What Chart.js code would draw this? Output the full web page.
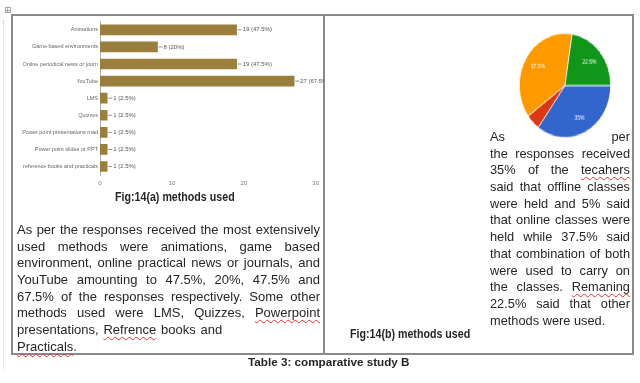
<!DOCTYPE html>
<html><head><meta charset="utf-8">
<script src="https://cdn.jsdelivr.net/npm/chart.js@4.4.1/dist/chart.umd.min.js"></script>
<style>
html,body{margin:0;padding:0;background:#fff;}
body{width:640px;height:383px;position:relative;overflow:hidden;font-family:"Liberation Sans",Arial,sans-serif;color:#262626;}
#page{position:absolute;left:0;top:0;width:640px;height:383px;filter:blur(0.3px);}
.abs{position:absolute;}
#frame{left:11px;top:14px;width:623px;height:341px;border:2px solid #8a8a8a;box-sizing:border-box;}
#divider{left:323px;top:14px;width:2px;height:341px;background:#8a8a8a;}
.para div{height:16.7px;line-height:16.7px;text-align:justify;text-align-last:justify;}
.para div.l{text-align:left;text-align-last:left;}
#leftText{left:17px;top:222px;width:303px;font-size:13px;}
#leftText div.l{word-spacing:1.2px;}
#rightText{left:490px;top:129px;width:140px;font-size:12.8px;}
.sp{text-decoration:underline wavy #e03030;text-decoration-thickness:1px;text-underline-offset:2px;}
.cap{font-weight:bold;font-size:13px;white-space:nowrap;transform:scaleX(0.82);transform-origin:0 0;}
#capA{left:115px;top:189px;}
#capB{left:350px;top:326px;}
#title{left:248px;top:355px;font-weight:bold;font-size:11.7px;white-space:nowrap;}
#handle{left:4px;top:5px;font-size:9px;color:#888;font-family:"DejaVu Sans",sans-serif;}
#dots{left:3px;top:20px;height:350px;border-left:1px dotted #cfcfcf;}
</style>
</head><body>
<div id="page">
<div id="dots" class="abs"></div>
<div id="handle" class="abs">⊞</div>
<div id="frame" class="abs"></div>
<div id="divider" class="abs"></div>
<canvas id="bar" class="abs" width="310" height="172" style="left:14px;top:16px;"></canvas>
<div class="abs" style="left:519px;top:33px;width:92px;height:92px;transform:scaleY(1.14);transform-origin:0 0;">
<canvas id="pie" width="92" height="92"></canvas>
</div>
<div id="capA" class="abs cap">Fig:14(a) methods used</div>
<div id="leftText" class="abs para">
<div>As per the responses received the most extensively</div>
<div>used methods were animations, game based</div>
<div>environment, online practical news or journals, and</div>
<div>YouTube amounting to 47.5%, 20%, 47.5% and</div>
<div>67.5% of the responses respectively. Some other</div>
<div>methods used were LMS, Quizzes, <span class="sp">Powerpoint</span></div>
<div class="l">presentations, <span class="sp">Refrence</span> books and</div>
<div class="l"><span class="sp">Practicals</span>.</div>
</div>
<div id="rightText" class="abs para">
<div>As per</div>
<div>the responses received</div>
<div>35% of the <span class="sp">tecahers</span></div>
<div>said that offline classes</div>
<div>were held and 5% said</div>
<div>that online classes were</div>
<div>held while 37.5% said</div>
<div>that combination of both</div>
<div>were used to carry on</div>
<div>the classes. <span class="sp">Remaning</span></div>
<div>22.5% said that other</div>
<div class="l">methods were used.</div>
</div>
<div id="capB" class="abs cap">Fig:14(b) methods used</div>
<div id="title" class="abs">Table 3: comparative study B</div>
</div>
<script>
const categories = ["Animations","Game based environments","Online periodical news or journ","YouTube","LMS","Quizzes","Power point presentations mad","Power point slides or PPT","reference books and practicals"];
const counts = [19,8,19,27,1,1,1,1,1];
const percentLabels = ["47.5%","20%","47.5%","67.5%","2.5%","2.5%","2.5%","2.5%","2.5%"];
const xTickStep = 10;
const xMax = 30;
const pieLabels = ["Offline classes","Online classes","Combination of both","Other methods"];
const pieValues = [35,5,37.5,22.5];

const barLabelPlugin = {
  id:'barLabels',
  afterDatasetsDraw(chart){
    const ctx = chart.ctx;
    const meta = chart.getDatasetMeta(0);
    ctx.save();
    ctx.font = '6px "Liberation Sans"';
    ctx.fillStyle = '#555';
    ctx.strokeStyle = '#777';
    ctx.lineWidth = 0.8;
    ctx.textBaseline = 'middle';
    meta.data.forEach((bar,i)=>{
      ctx.beginPath(); ctx.moveTo(bar.x+1,bar.y); ctx.lineTo(bar.x+5,bar.y); ctx.stroke();
      ctx.fillText(counts[i]+' ('+percentLabels[i]+')', bar.x+6, bar.y);
    });
    ctx.restore();
  }
};

new Chart(document.getElementById('bar'),{
  type:'bar',
  data:{labels:categories,datasets:[{data:counts,backgroundColor:'#9a7f3c',barThickness:10}]},
  options:{
    indexAxis:'y',responsive:false,animation:false,events:[],
    layout:{padding:{top:0,right:4,bottom:0,left:0}},
    plugins:{legend:{display:false},tooltip:{enabled:false}},
    scales:{
      x:{min:0,max:xMax,grid:{display:false,drawTicks:false},border:{display:false},
         ticks:{stepSize:xTickStep,padding:5,font:{size:6,family:'Liberation Sans'},color:'#777',maxRotation:0},
         afterFit(s){s.height=13;}},
      y:{grid:{display:false,drawTicks:false},border:{display:true,color:'#b0b0b0'},
         ticks:{padding:2,font:{size:5.5,family:'Liberation Sans'},color:'#666',autoSkip:false},
         afterFit(s){s.width=86;}}
    }
  },
  plugins:[barLabelPlugin]
});

const pieLabelPlugin = {
  id:'pieLabels',
  afterDatasetsDraw(chart){
    const ctx = chart.ctx;
    const meta = chart.getDatasetMeta(0);
    ctx.save();
    ctx.font = '5px "Liberation Sans"';
    ctx.fillStyle = '#fff';
    ctx.textAlign = 'center';
    ctx.textBaseline = 'middle';
    meta.data.forEach((arc,i)=>{
      if(pieValues[i] < 10) return;
      const a = (arc.startAngle+arc.endAngle)/2;
      const r = arc.outerRadius*0.7;
      ctx.fillText(pieValues[i]+'%', arc.x+Math.cos(a)*r, arc.y+Math.sin(a)*r);
    });
    ctx.restore();
  }
};

new Chart(document.getElementById('pie'),{
  type:'pie',
  data:{labels:pieLabels,datasets:[{data:pieValues,backgroundColor:['#3366cc','#dc3912','#ff9900','#109618'],borderColor:'#ffffff',borderWidth:0.7}]},
  options:{responsive:false,animation:false,events:[],rotation:90,
    layout:{padding:0},
    plugins:{legend:{display:false},tooltip:{enabled:false}}},
  plugins:[pieLabelPlugin]
});
</script>
</body></html>
